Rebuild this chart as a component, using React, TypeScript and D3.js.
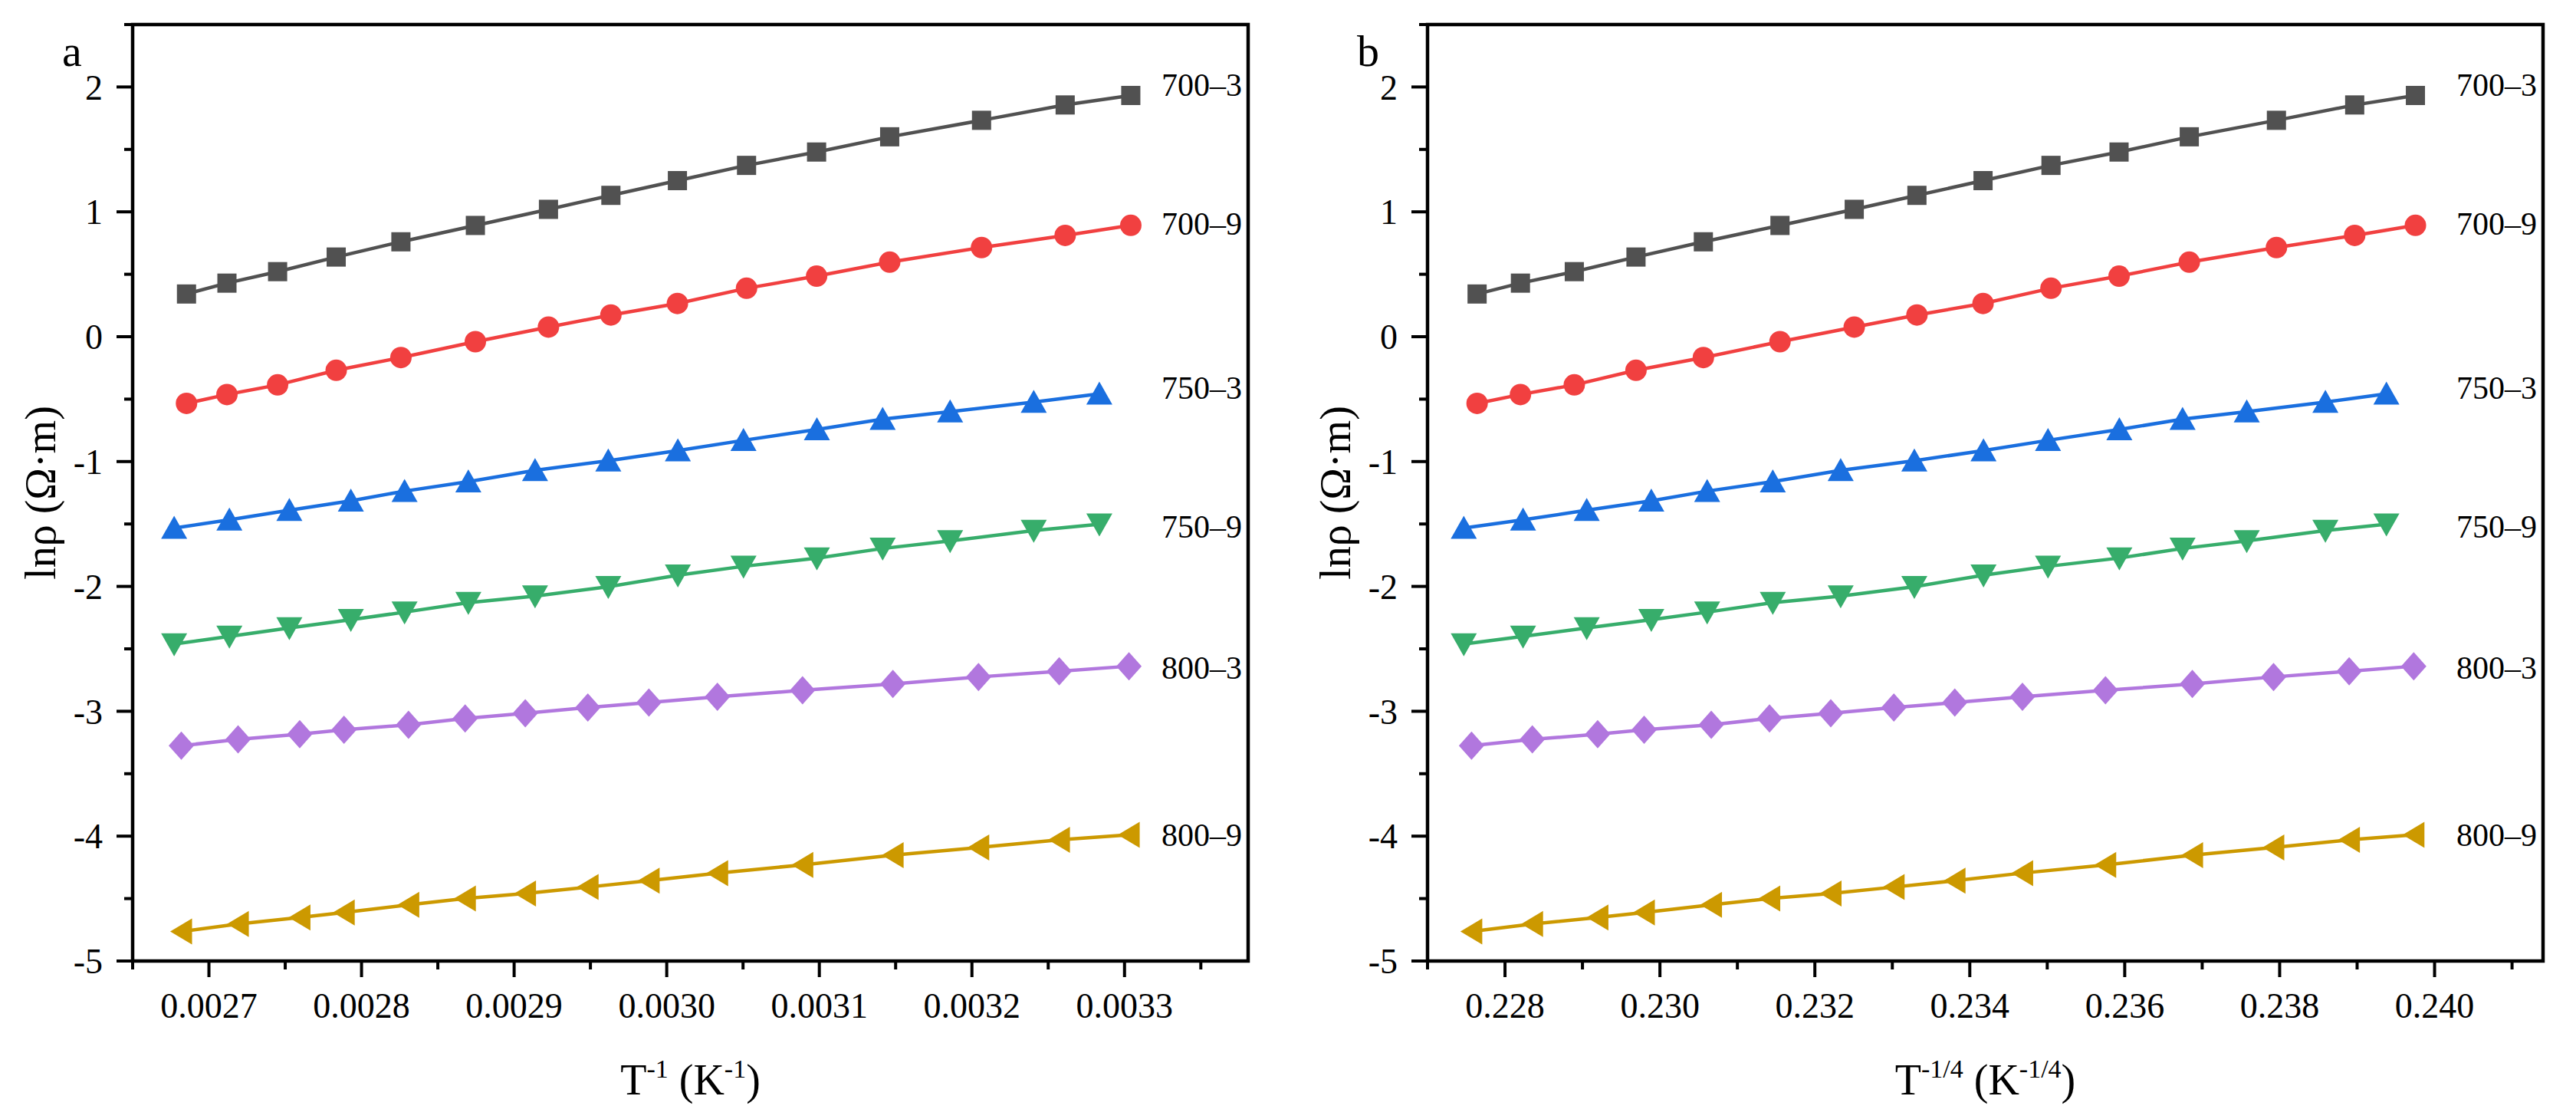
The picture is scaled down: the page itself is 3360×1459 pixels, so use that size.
import * as d3 from "d3";

// 1/T (K^-1), one set of temperatures per sample group
const invT700 = [
  0.0026853, 0.0027118, 0.002745, 0.0027834, 0.0028258, 0.0028746, 0.0029225, 0.0029634,
  0.003007, 0.0030523, 0.0030982, 0.0031461, 0.0032063, 0.0032611, 0.0033041,
];
const invT750 = [
  0.0026772, 0.0027134, 0.0027527, 0.002793, 0.0028282, 0.00287, 0.0029137, 0.0029617,
  0.0030073, 0.0030503, 0.0030984, 0.0031415, 0.0031857, 0.0032405, 0.0032835,
];
const invT800 = [
  0.0026819, 0.0027191, 0.0027595, 0.0027885, 0.0028308, 0.0028679, 0.0029073, 0.0029483,
  0.0029883, 0.0030332, 0.003089, 0.0031482, 0.0032043, 0.0032572, 0.0033029,
];

// ln(rho) values
const lnRho700_3 = [0.342, 0.429, 0.521, 0.638, 0.76, 0.891, 1.02, 1.132, 1.25, 1.372, 1.479, 1.601, 1.733, 1.856, 1.932];
const lnRho700_9 = [-0.534, -0.463, -0.386, -0.269, -0.167, -0.04, 0.077, 0.174, 0.266, 0.388, 0.485, 0.597, 0.714, 0.811, 0.892];
const lnRho750_3 = [-1.533, -1.467, -1.39, -1.314, -1.237, -1.161, -1.07, -0.993, -0.912, -0.83, -0.743, -0.66, -0.601, -0.524, -0.458];
const lnRho750_9 = [-2.461, -2.4, -2.333, -2.267, -2.206, -2.13, -2.078, -2.002, -1.91, -1.839, -1.773, -1.696, -1.635, -1.553, -1.502];
const lnRho800_3 = [-3.276, -3.225, -3.184, -3.148, -3.108, -3.057, -3.016, -2.97, -2.93, -2.884, -2.832, -2.781, -2.725, -2.679, -2.639];
const lnRho800_9 = [-4.764, -4.703, -4.652, -4.611, -4.55, -4.5, -4.459, -4.408, -4.357, -4.296, -4.23, -4.153, -4.091, -4.03, -3.99];

const seriesNames = ["700–3", "700–9", "750–3", "750–9", "800–3", "800–9"];
const seriesX = [invT700, invT700, invT750, invT750, invT800, invT800];
const seriesY = [lnRho700_3, lnRho700_9, lnRho750_3, lnRho750_9, lnRho800_3, lnRho800_9];
// where the end labels sit, in lnρ units
const labelY = [2.02, 0.91, -0.41, -1.52, -2.65, -3.99];
const colors = ["#515151", "#F14040", "#1A6FDF", "#37AD6B", "#B177DE", "#CC9900"];
const markers = ["square", "circle", "up", "down", "diamond", "left"];

const yMajor = [-5, -4, -3, -2, -1, 0, 1, 2];
const yMinor = [-4.5, -3.5, -2.5, -1.5, -0.5, 0.5, 1.5, 2.5];
const aMajor = [0.0027, 0.0028, 0.0029, 0.003, 0.0031, 0.0032, 0.0033];
const aMinor = [0.00265, 0.00275, 0.00285, 0.00295, 0.00305, 0.00315, 0.00325, 0.00335];
const bMajor = [0.228, 0.23, 0.232, 0.234, 0.236, 0.238, 0.24];
const bMinor = [0.227, 0.229, 0.231, 0.233, 0.235, 0.237, 0.239, 0.241];

const W = 3360;
const H = 1459;
const TOP = 32;
const BOTTOM = 1253;
const FONT = "'Liberation Serif', 'Times New Roman', serif";

const yScale = d3.scaleLinear().domain([-5, 2.5]).range([BOTTOM, TOP]);

function Marker({ kind, color }: { kind: string; color: string }) {
  switch (kind) {
    case "square":
      return <rect x={-12.5} y={-12.5} width={25} height={25} fill={color} />;
    case "circle":
      return <circle r={14} fill={color} />;
    case "up":
      return <path d="M0,-16L17,14L-17,14Z" fill={color} />;
    case "down":
      return <path d="M0,16L17,-14L-17,-14Z" fill={color} />;
    case "diamond":
      return <path d="M0,-18.5L16.5,0L0,18.5L-16.5,0Z" fill={color} />;
    default:
      return <path d="M-14.5,0L14,-17L14,17Z" fill={color} />;
  }
}

function Panel({
  left,
  right,
  domain,
  major,
  minor,
  fmt,
  xOf,
  letter,
  titleSup,
}: {
  left: number;
  right: number;
  domain: [number, number];
  major: number[];
  minor: number[];
  fmt: (v: number) => string;
  xOf: (v: number) => number;
  letter: string;
  titleSup: string;
}) {
  const x = d3.scaleLinear().domain(domain).range([left, right]);
  const line = d3
    .line<[number, number]>()
    .x((d) => x(xOf(d[0])))
    .y((d) => yScale(d[1]));
  const cx = (left + right) / 2;
  const cy = (TOP + BOTTOM) / 2;

  return (
    <g fontFamily={FONT} fill="#000">
      {/* series */}
      {seriesNames.map((name, i) => {
        const pts = seriesX[i].map((v, j) => [v, seriesY[i][j]] as [number, number]);
        return (
          <g key={name}>
            <path d={line(pts) ?? ""} fill="none" stroke={colors[i]} strokeWidth={4.5} />
            {pts.map((p, j) => (
              <g key={j} transform={`translate(${x(xOf(p[0]))},${yScale(p[1])})`}>
                <Marker kind={markers[i]} color={colors[i]} />
              </g>
            ))}
            <text x={right - 113} y={yScale(labelY[i])} dy="0.35em" fontSize={42} fill="#000">
              {name}
            </text>
          </g>
        );
      })}

      {/* frame */}
      <rect x={left} y={TOP} width={right - left} height={BOTTOM - TOP} fill="none" stroke="#000" strokeWidth={4.5} />

      {/* y axis */}
      {yMajor.map((v) => (
        <g key={`ym${v}`}>
          <line x1={left - 21} x2={left} y1={yScale(v)} y2={yScale(v)} stroke="#000" strokeWidth={4} />
          <text x={left - 39} y={yScale(v)} dy="0.35em" textAnchor="end" fontSize={46}>
            {String(v)}
          </text>
        </g>
      ))}
      {yMinor.map((v) => (
        <line key={`yn${v}`} x1={left - 11} x2={left} y1={yScale(v)} y2={yScale(v)} stroke="#000" strokeWidth={4} />
      ))}

      {/* x axis */}
      {major.map((v) => (
        <g key={`xm${v}`}>
          <line x1={x(v)} x2={x(v)} y1={BOTTOM} y2={BOTTOM + 21} stroke="#000" strokeWidth={4} />
          <text x={x(v)} y={1327} textAnchor="middle" fontSize={46}>
            {fmt(v)}
          </text>
        </g>
      ))}
      {minor.map((v) => (
        <line key={`xn${v}`} x1={x(v)} x2={x(v)} y1={BOTTOM} y2={BOTTOM + 11} stroke="#000" strokeWidth={4} />
      ))}

      {/* titles */}
      <text x={cx} y={1427} textAnchor="middle" fontSize={56}>
        <tspan>T</tspan>
        <tspan fontSize={34} dy={-22}>{titleSup}</tspan>
        <tspan dy={22}> (K</tspan>
        <tspan fontSize={34} dy={-22}>{titleSup}</tspan>
        <tspan dy={22}>)</tspan>
      </text>
      <text transform={`translate(${left - 101},${cy}) rotate(-90)`} textAnchor="middle" fontSize={56}>
        lnρ (Ω·m)
      </text>
      <text x={left - 92} y={86} fontSize={58}>
        {letter}
      </text>
    </g>
  );
}

export default function App() {
  return (
    <>
      <style>{`body{margin:0;background:#fff}`}</style>
      <svg width={W} height={H} viewBox={`0 0 ${W} ${H}`} style={{ display: "block", background: "#fff" }}>
        <Panel
          left={173}
          right={1628}
          domain={[0.00265, 0.003381]}
          major={aMajor}
          minor={aMinor}
          fmt={d3.format(".4f")}
          xOf={(v) => v}
          letter="a"
          titleSup="-1"
        />
        <Panel
          left={1862}
          right={3317}
          domain={[0.227, 0.2414]}
          major={bMajor}
          minor={bMinor}
          fmt={d3.format(".3f")}
          xOf={(v) => Math.pow(v, 0.25)}
          letter="b"
          titleSup="-1/4"
        />
      </svg>
    </>
  );
}
